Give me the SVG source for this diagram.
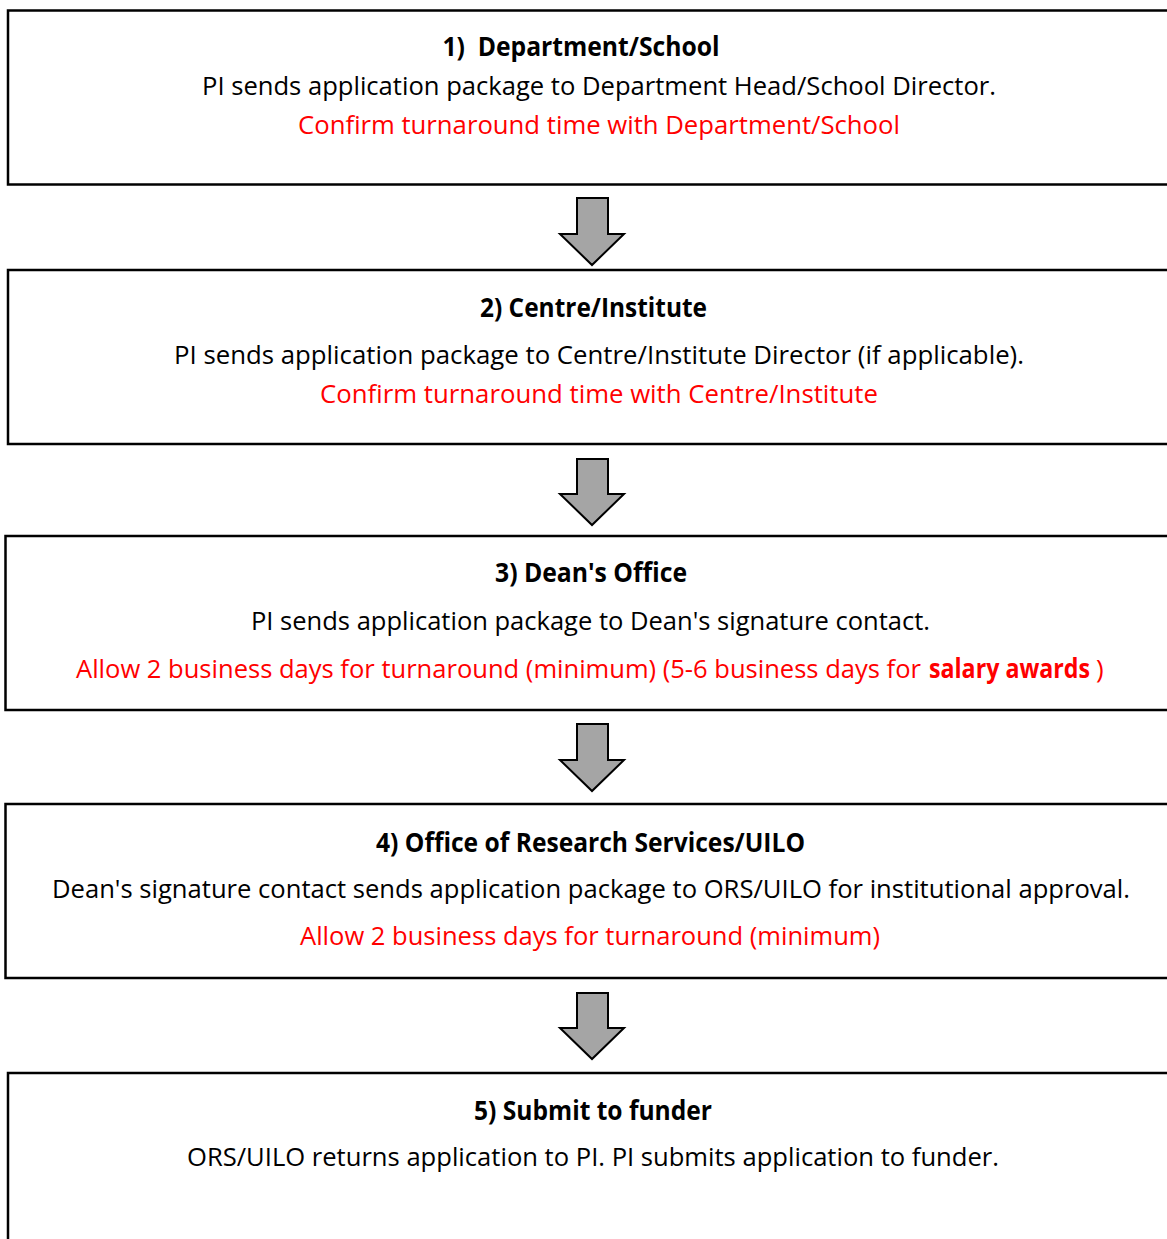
<svg xmlns="http://www.w3.org/2000/svg" width="1167" height="1239" viewBox="0 0 1167 1239">
<style>
.box{fill:#fff;stroke:#000;stroke-width:2.5}
.arr{fill:#a5a5a5;stroke:#000;stroke-width:2;stroke-linejoin:miter}
text{font-family:"Open Sans","Liberation Sans",sans-serif;font-size:26px;text-anchor:middle;fill:#000;white-space:pre}
.t{font-weight:bold}
.r{fill:#ff0000}
.s{text-anchor:start}
</style>
<rect width="1167" height="1239" fill="#fff"/>
<g id="connectors">
<polygon class="arr" points="577,198 608,198 608,234 624,234 592,265 560,234 577,234"/>
<polygon class="arr" points="577,459 608,459 608,494 624,494 592,525 560,494 577,494"/>
<polygon class="arr" points="577,724 608,724 608,760 624,760 592,791 560,760 577,760"/>
<polygon class="arr" points="577,993 608,993 608,1028 624,1028 592,1059 560,1028 577,1028"/>
</g>
<g id="node1">
<rect class="box" x="8" y="10.5" width="1170" height="174"/>
<text class="t" x="581" y="56" textLength="277" lengthAdjust="spacingAndGlyphs">1)  Department/School</text>
<text x="599" y="95" textLength="794" lengthAdjust="spacingAndGlyphs">PI sends application package to Department Head/School Director.</text>
<text class="r" x="599" y="134" textLength="602" lengthAdjust="spacingAndGlyphs">Confirm turnaround time with Department/School</text>
</g>
<g id="node2">
<rect class="box" x="8" y="270" width="1170" height="174"/>
<text class="t" x="593.5" y="317" textLength="227" lengthAdjust="spacingAndGlyphs">2) Centre/Institute</text>
<text x="599" y="364" textLength="850" lengthAdjust="spacingAndGlyphs">PI sends application package to Centre/Institute Director (if applicable).</text>
<text class="r" x="599" y="403" textLength="558" lengthAdjust="spacingAndGlyphs">Confirm turnaround time with Centre/Institute</text>
</g>
<g id="node3">
<rect class="box" x="5.5" y="536" width="1172" height="174"/>
<text class="t" x="591" y="582" textLength="192" lengthAdjust="spacingAndGlyphs">3) Dean's Office</text>
<text x="590.5" y="630" textLength="679" lengthAdjust="spacingAndGlyphs">PI sends application package to Dean's signature contact.</text>
<text class="r s" x="76" y="678" textLength="845" lengthAdjust="spacingAndGlyphs">Allow 2 business days for turnaround (minimum) (5-6 business days for</text>
<text class="r s t" x="929" y="678" font-size="21.8" textLength="161" lengthAdjust="spacingAndGlyphs">salary awards</text>
<text class="r s" x="1096" y="678">)</text>
</g>
<g id="node4">
<rect class="box" x="5.5" y="804" width="1172" height="174"/>
<text class="t" x="590.5" y="852" textLength="429" lengthAdjust="spacingAndGlyphs">4) Office of Research Services/UILO</text>
<text x="591" y="898" textLength="1078" lengthAdjust="spacingAndGlyphs">Dean's signature contact sends application package to ORS/UILO for institutional approval.</text>
<text class="r" x="590" y="945" textLength="580" lengthAdjust="spacingAndGlyphs">Allow 2 business days for turnaround (minimum)</text>
</g>
<g id="node5">
<rect class="box" x="8" y="1073" width="1170" height="200"/>
<text class="t" x="593" y="1120" textLength="238" lengthAdjust="spacingAndGlyphs">5) Submit to funder</text>
<text x="593" y="1166" textLength="812" lengthAdjust="spacingAndGlyphs">ORS/UILO returns application to PI. PI submits application to funder.</text>
</g>
</svg>
